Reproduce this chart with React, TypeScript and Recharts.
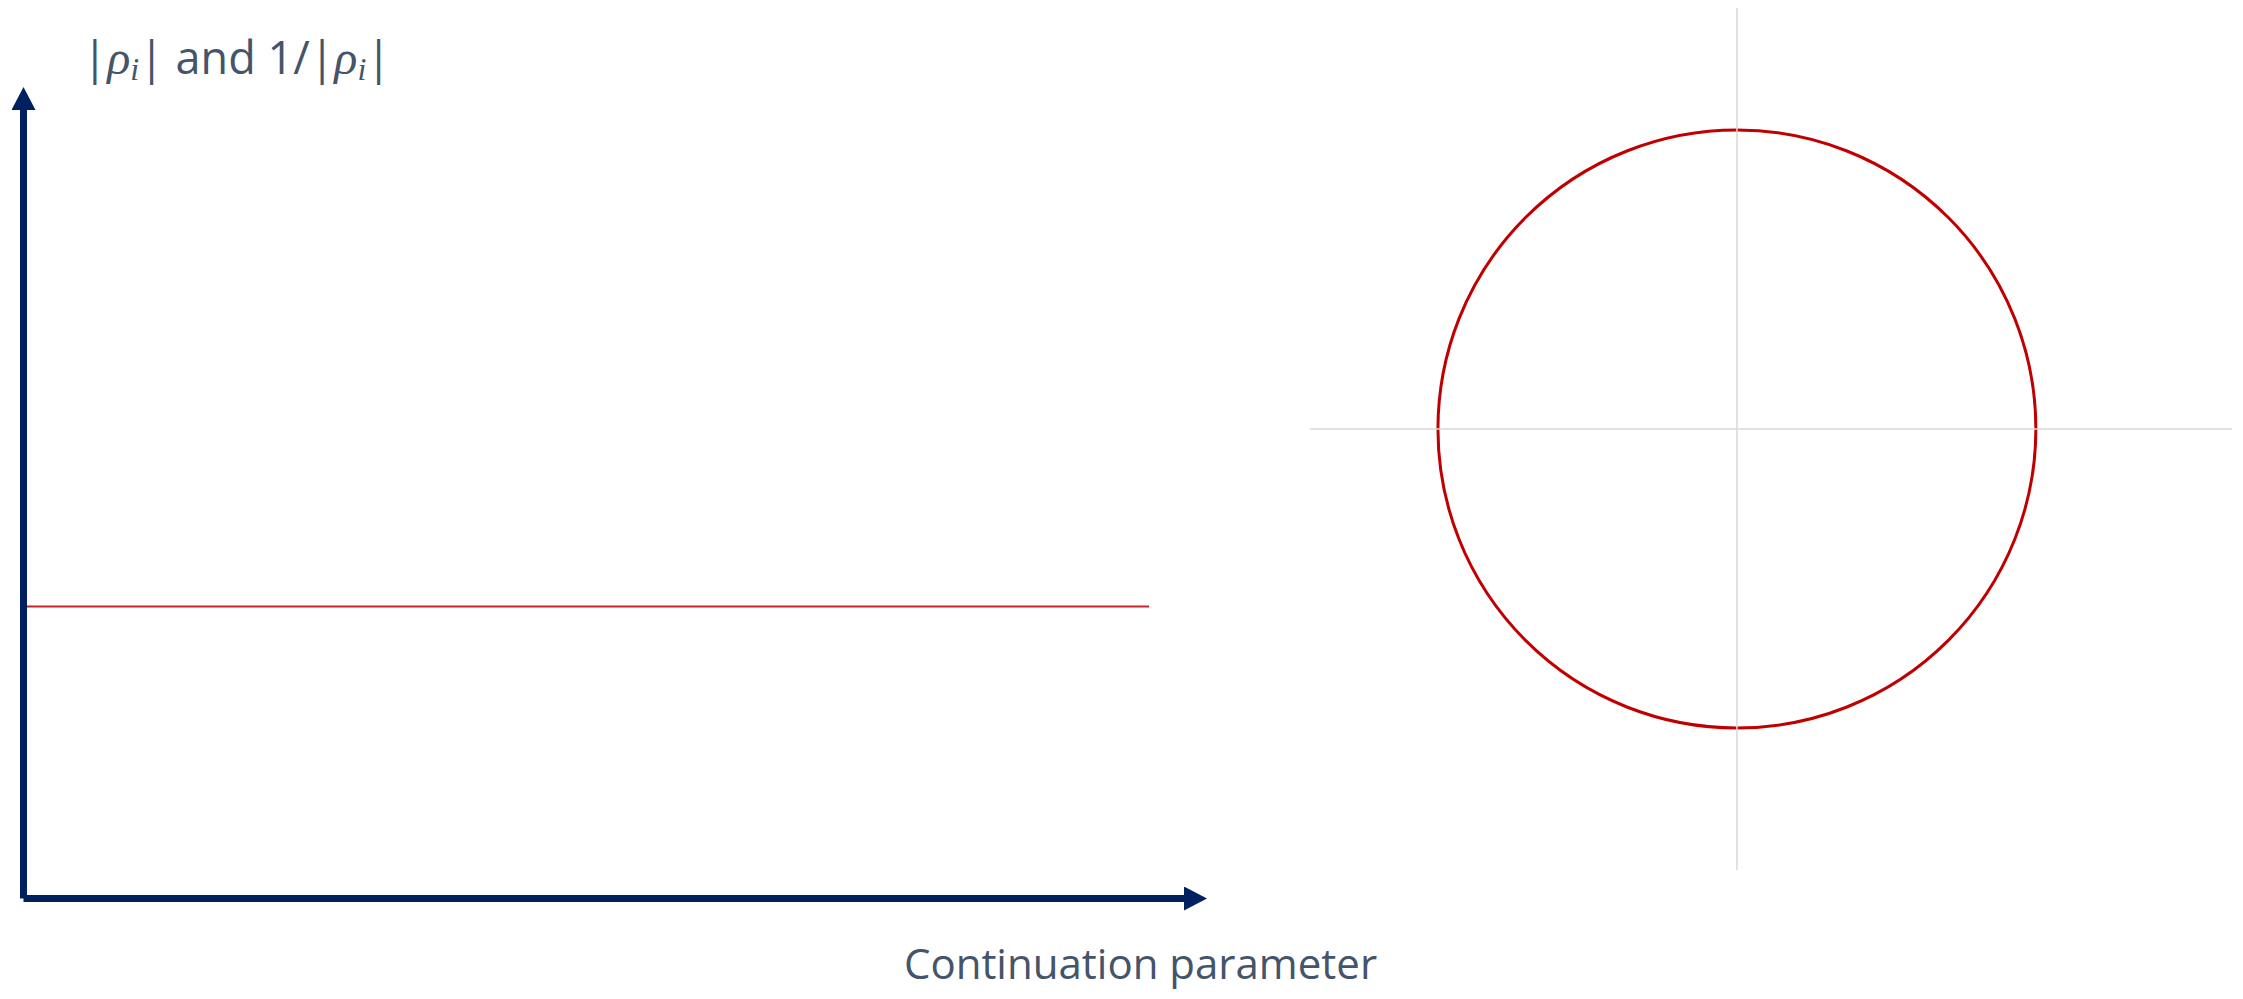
import React from 'react';
import { ComposedChart, ScatterChart, Line, XAxis, YAxis, ReferenceLine, ReferenceArea, Label } from 'recharts';

// continuation parameter runs 0..1, modulus axis scaled so |rho| = 1 sits low on the axis
const paramDomain = [0, 1.031];
const modulusDomain = [0, 2.7];
const unitModulus = [
  { t: 0, rho: 1 },
  { t: 1, rho: 1 },
];

// complex plane window and the unit circle bounds
const reDomain = [-1.428, 1.656];
const imDomain = [-1.475, 1.408];
const circleRe = [-1, 1];
const circleIm = [-1, 1];

const xTitle = 'Continuation parameter';

const NAVY = '#002060';
const SLATE = '#44546A';
const RED = '#C00000';
const GRID = '#D9D9D9';
const FONT = '"Open Sans", "Noto Sans", sans-serif';
const MATH = '"Liberation Serif", "DejaVu Serif", serif';

const YTitle = ({ viewBox }: any) => {
  const x = viewBox.x + 60;
  const y = viewBox.y - 36;
  return (
    <text x={x} y={y} fill={SLATE} fontFamily={FONT} fontSize={45} style={{ whiteSpace: 'pre' }}>
      <tspan>|</tspan>
      <tspan fontFamily={MATH} fontStyle="italic" fontSize={48}>ρ</tspan>
      <tspan fontFamily={MATH} fontStyle="italic" fontSize={32} dy={6}>i</tspan>
      <tspan dy={-6}>| and 1/|</tspan>
      <tspan fontFamily={MATH} fontStyle="italic" fontSize={48}>ρ</tspan>
      <tspan fontFamily={MATH} fontStyle="italic" fontSize={32} dy={6}>i</tspan>
      <tspan dy={-6}>|</tspan>
    </text>
  );
};

const XTitle = ({ viewBox }: any) => (
  <text
    x={viewBox.x + 1117}
    y={viewBox.y + 80}
    fill={SLATE}
    fontFamily={FONT}
    fontSize={42}
    textAnchor="middle"
  >
    {xTitle}
  </text>
);

// circle inscribed in the reference area box, so its size comes from the axis scales
const UnitCircle = (props: any) => {
  const { x, y, width, height } = props;
  return (
    <ellipse
      cx={x + width / 2}
      cy={y + height / 2}
      rx={width / 2}
      ry={height / 2}
      fill="none"
      stroke={RED}
      strokeWidth={3}
    />
  );
};

export default function App() {
  const xAxisLine = { stroke: NAVY, strokeWidth: 7, markerEnd: 'url(#arrowHead)' };
  const yAxisLine = { stroke: NAVY, strokeWidth: 7, markerStart: 'url(#arrowHead)' };

  return (
    <div style={{ position: 'absolute', left: 0, top: 0, width: 2243, height: 999, background: '#fff' }}>
      <div style={{ position: 'absolute', left: 0, top: 0 }}>
        <ComposedChart
          width={1400}
          height={999}
          data={unitModulus}
          margin={{ top: 110, right: 216, bottom: 99.5, left: 22.5 }}
        >
          <defs>
            <marker
              id="arrowHead"
              markerUnits="userSpaceOnUse"
              markerWidth={24}
              markerHeight={24}
              refX={0}
              refY={12}
              orient="auto-start-reverse"
            >
              <path d="M0,0 L23,12 L0,24 Z" fill={NAVY} />
            </marker>
          </defs>
          <XAxis
            dataKey="t"
            type="number"
            domain={paramDomain}
            height={1}
            tick={false}
            tickLine={false}
            axisLine={xAxisLine}
          >
            <Label content={XTitle} />
          </XAxis>
          <YAxis
            type="number"
            domain={modulusDomain}
            width={1}
            tick={false}
            tickLine={false}
            axisLine={yAxisLine}
          >
            <Label content={YTitle} />
          </YAxis>
          <Line
            dataKey="rho"
            stroke="#C8262B"
            strokeWidth={2}
            dot={false}
            isAnimationActive={false}
          />
        </ComposedChart>
      </div>
      <div style={{ position: 'absolute', left: 1310, top: 8 }}>
        <ScatterChart width={922} height={862} margin={{ top: 0, right: 0, bottom: 0, left: 0 }}>
          <XAxis type="number" dataKey="re" domain={reDomain} hide allowDataOverflow />
          <YAxis type="number" dataKey="im" domain={imDomain} hide allowDataOverflow />
          <ReferenceLine x={0} stroke={GRID} strokeWidth={1.5} />
          <ReferenceLine y={0} stroke={GRID} strokeWidth={1.5} />
          <ReferenceArea
            x1={circleRe[0]}
            x2={circleRe[1]}
            y1={circleIm[0]}
            y2={circleIm[1]}
            shape={UnitCircle}
          />
        </ScatterChart>
      </div>
    </div>
  );
}
